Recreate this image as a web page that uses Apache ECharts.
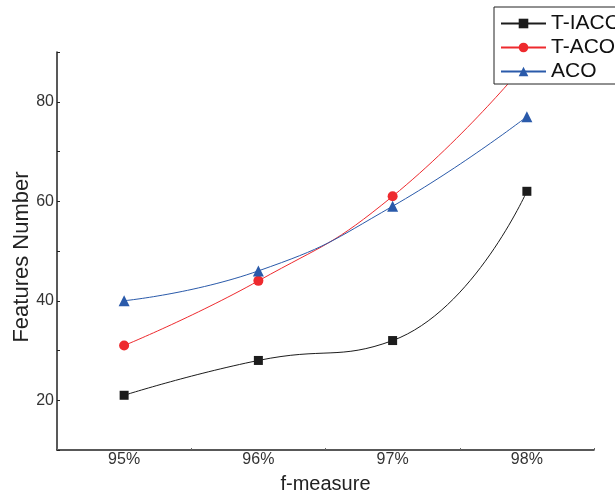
<!DOCTYPE html>
<html>
<head>
<meta charset="utf-8">
<script src="https://cdn.jsdelivr.net/npm/echarts@6/dist/echarts.min.js"></script>
<style>html,body{margin:0;padding:0;background:#fff;}#c{width:615px;height:494px;}</style>
</head>
<body>
<div id="c"></div>
<script>
var categories = ['95%', '96%', '97%', '98%'];
var tIACO = [21, 28, 32, 62];
var tACO = [31, 44, 61, 88];
var aco = [40, 46, 59, 77];
var yTickLabels = [20, 40, 60, 80];

var chart = echarts.init(document.getElementById('c'), null, {renderer: 'canvas'});
var font = 'Liberation Sans, Arial, sans-serif';
function mkSeries(name, data, color, symbol, size) {
  return {
    name: name, type: 'line', data: data, smooth: 0.5,
    symbol: symbol, symbolSize: size, showSymbol: true,
    itemStyle: {color: color},
    lineStyle: {color: color, width: 1},
    z: 2
  };
}
chart.setOption({
  animation: false,
  backgroundColor: '#fff',
  grid: {left: 57, right: 21, top: 52, bottom: 44, containLabel: false, outerBoundsMode: 'none'},
  legend: {
    orient: 'vertical', left: 494, top: 7,
    padding: [6, 8, 2, 6],
    itemGap: 3, itemWidth: 45, itemHeight: 12,
    backgroundColor: '#fff', borderColor: '#222', borderWidth: 1,
    textStyle: {fontFamily: font, fontSize: 21, color: '#111'},
    data: ['T-IACO', 'T-ACO', 'ACO'],
    z: 10
  },
  xAxis: {
    type: 'category', data: categories, boundaryGap: true,
    name: 'f-measure', nameLocation: 'middle', nameGap: 24,
    nameTextStyle: {fontFamily: font, fontSize: 20, color: '#222'},
    axisLine: {lineStyle: {color: '#222', width: 1.5}},
    axisTick: {show: true, inside: true, length: 2, lineStyle: {color: '#666'}},
    axisLabel: {fontFamily: font, fontSize: 16, color: '#333', margin: 2}
  },
  yAxis: {
    type: 'value', min: 10, max: 90, interval: 10,
    name: 'Features Number', nameLocation: 'middle', nameGap: 24, nameRotate: 90,
    nameMoveOverlap: false,
    nameTextStyle: {fontFamily: font, fontSize: 22, color: '#222', padding: [0, 12, 0, 0]},
    axisLine: {show: true, lineStyle: {color: '#222', width: 1.5}},
    axisTick: {show: true, inside: true, length: 3, lineStyle: {color: '#222'}},
    splitLine: {show: false},
    axisLabel: {
      fontFamily: font, fontSize: 16, color: '#333', margin: 3,
      formatter: function (v) { return yTickLabels.indexOf(v) >= 0 ? String(v) : ''; }
    }
  },
  series: [
    mkSeries('T-IACO', tIACO, '#1c1c1c', 'rect', 9),
    mkSeries('T-ACO', tACO, '#ee2a2e', 'circle', 10),
    mkSeries('ACO', aco, '#2a5aaa', 'triangle', 11)
  ]
});
</script>
</body>
</html>
